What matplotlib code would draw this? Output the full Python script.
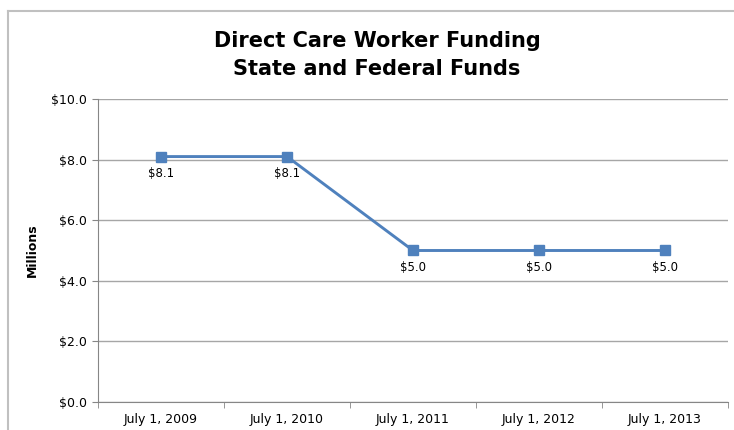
import matplotlib.pyplot as plt
from matplotlib.lines import Line2D
import numpy as np

dates = ["July 1, 2009", "July 1, 2010", "July 1, 2011", "July 1, 2012", "July 1, 2013"]
funding = [8.1, 8.1, 5.0, 5.0, 5.0]
y_ticks = [0, 2, 4, 6, 8, 10]

plt.rcParams["font.family"] = "DejaVu Sans"

fig = plt.figure(figsize=(7.34, 4.30), dpi=100)
ax = fig.add_axes([98 / 734, 28 / 430, 630 / 734, 303 / 430])

# outer chart border: only top and left edges show in the picture
bx, by = 8 / 734, 1 - 11 / 430
fig.add_artist(Line2D([bx, 1.0], [by, by], transform=fig.transFigure,
                      color="#c0c0c0", linewidth=1.5))
fig.add_artist(Line2D([bx, bx], [0, by], transform=fig.transFigure,
                      color="#c0c0c0", linewidth=1.5))

x = np.arange(len(dates))
ax.plot(x, funding, color="#4f81bd", linewidth=2.1, marker="s",
        markersize=6.5, zorder=3)

for xi, v in zip(x, funding):
    ax.annotate(f"${v:.1f}", (xi, v), xytext=(0, -17),
                textcoords="offset pixels", ha="center", va="center",
                fontsize=8.5)

ax.set_xlim(-0.5, len(dates) - 0.5)
ax.set_ylim(0, 10)
ax.set_yticks(y_ticks)
ax.set_yticklabels([f"${t:.1f}" for t in y_ticks])
ax.set_xticks(x)
ax.set_xticklabels(dates)
ax.set_xticks(np.arange(-0.5, len(dates), 1), minor=True)
ax.tick_params(axis="x", which="major", length=0, pad=8, labelsize=9)
ax.tick_params(axis="x", which="minor", length=4, color="#868686")
ax.tick_params(axis="y", length=4, color="#868686", labelsize=9, pad=4)

ax.grid(axis="y", color="#a6a6a6", linewidth=1)
ax.set_axisbelow(True)
for s in ["top", "right"]:
    ax.spines[s].set_visible(False)
for s in ["left", "bottom"]:
    ax.spines[s].set_color("#868686")

ax.set_ylabel("Millions", fontsize=9, fontweight="bold", labelpad=9)
fig.text(377 / 734, 1 - 55 / 430, "Direct Care Worker Funding\nState and Federal Funds",
         ha="center", va="center", fontsize=15, fontweight="bold",
         linespacing=1.45)

fig.savefig("out.png", dpi=100)
